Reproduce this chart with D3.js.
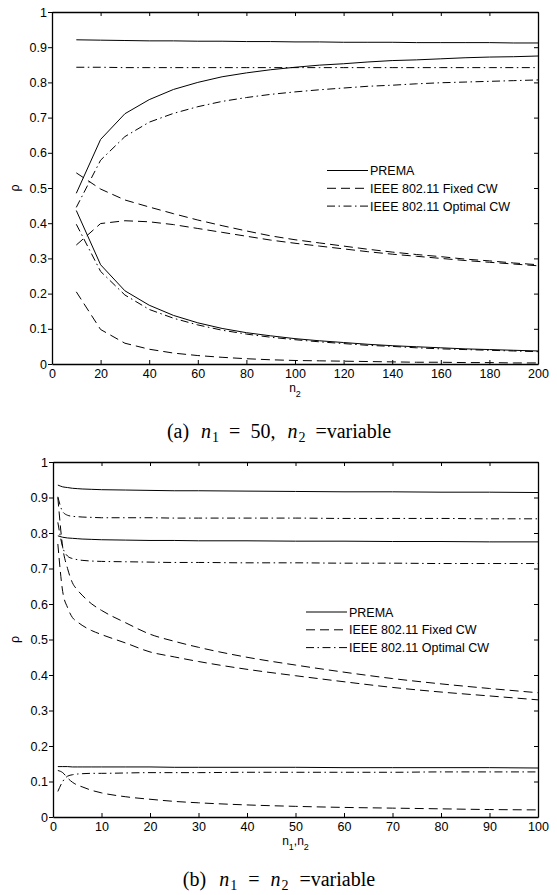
<!DOCTYPE html>
<html>
<head>
<meta charset="utf-8">
<script src="https://cdn.jsdelivr.net/npm/d3@7"></script>
<style>
  body { margin: 0; background: #fff; }
  text { font-family: "Liberation Sans", Arial, Helvetica, sans-serif; fill: #000; }
  text.cap { font-family: "Liberation Serif", "Times New Roman", serif; }
</style>
</head>
<body>
<script>
// ---- data ----
var topN2 = [10,20,30,40,50,60,70,80,90,100,110,120,130,140,150,160,170,180,190,200];
var topPremaTotal = [0.921,0.920,0.919,0.918,0.918,0.917,0.917,0.916,0.916,0.915,0.915,0.914,0.914,0.914,0.913,0.913,0.913,0.913,0.912,0.912];
var topPremaN2    = [0.485,0.638,0.711,0.751,0.780,0.800,0.816,0.827,0.836,0.843,0.849,0.853,0.858,0.862,0.864,0.867,0.870,0.872,0.873,0.875];
var topPremaN1    = [0.436,0.282,0.208,0.167,0.138,0.117,0.101,0.089,0.080,0.072,0.066,0.061,0.056,0.052,0.049,0.046,0.043,0.041,0.039,0.037];
var topFixedTotal = [0.543,0.497,0.466,0.446,0.427,0.409,0.393,0.378,0.364,0.353,0.344,0.335,0.326,0.318,0.311,0.305,0.298,0.293,0.287,0.282];
var topFixedN2    = [0.338,0.399,0.407,0.404,0.396,0.385,0.374,0.363,0.352,0.343,0.335,0.327,0.319,0.312,0.306,0.300,0.294,0.289,0.284,0.279];
var topFixedN1    = [0.205,0.098,0.059,0.042,0.031,0.024,0.019,0.015,0.012,0.010,0.009,0.008,0.007,0.006,0.005,0.005,0.004,0.004,0.003,0.003];
var topOptTotal   = [0.843,0.843,0.842,0.842,0.842,0.842,0.842,0.842,0.842,0.842,0.842,0.842,0.842,0.842,0.842,0.842,0.842,0.842,0.842,0.842];
var topOptN2      = [0.445,0.579,0.646,0.687,0.712,0.731,0.746,0.757,0.766,0.773,0.779,0.784,0.789,0.792,0.796,0.799,0.801,0.803,0.805,0.807];
var topOptN1      = [0.397,0.263,0.196,0.155,0.130,0.111,0.096,0.085,0.076,0.069,0.063,0.058,0.053,0.050,0.046,0.043,0.041,0.039,0.037,0.035];

var botN = [1,2,3,4,5,6,8,10,15,20,25,30,40,50,60,70,80,90,100];
var botPremaTotal = [0.935,0.930,0.928,0.926,0.925,0.924,0.923,0.922,0.921,0.920,0.919,0.919,0.918,0.917,0.916,0.916,0.915,0.915,0.914];
var botPremaA     = [0.792,0.788,0.786,0.785,0.784,0.783,0.782,0.781,0.780,0.779,0.779,0.778,0.778,0.777,0.777,0.776,0.776,0.775,0.775];
var botPremaB     = [0.142,0.142,0.142,0.141,0.141,0.141,0.141,0.141,0.141,0.141,0.140,0.140,0.140,0.140,0.139,0.139,0.139,0.139,0.138];
var botFixedTotal = [0.900,0.760,0.700,0.660,0.640,0.625,0.600,0.582,0.547,0.515,0.495,0.478,0.450,0.428,0.408,0.390,0.375,0.362,0.350];
var botFixedA     = [0.769,0.635,0.590,0.562,0.550,0.540,0.525,0.514,0.490,0.465,0.451,0.438,0.416,0.398,0.381,0.365,0.352,0.341,0.330];
var botFixedB     = [0.131,0.125,0.110,0.098,0.090,0.085,0.075,0.068,0.057,0.050,0.044,0.040,0.034,0.030,0.027,0.025,0.023,0.021,0.020];
var botOptTotal   = [0.902,0.860,0.850,0.847,0.846,0.845,0.844,0.843,0.843,0.843,0.842,0.842,0.842,0.842,0.841,0.841,0.841,0.840,0.840];
var botOptA       = [0.830,0.760,0.735,0.728,0.725,0.723,0.721,0.720,0.719,0.718,0.717,0.717,0.716,0.716,0.715,0.715,0.714,0.714,0.714];
var botOptB       = [0.072,0.100,0.115,0.119,0.121,0.122,0.123,0.123,0.124,0.125,0.125,0.125,0.126,0.126,0.126,0.126,0.127,0.127,0.127];

var yTicks = [0,0.1,0.2,0.3,0.4,0.5,0.6,0.7,0.8,0.9,1];
var topXTicks = [0,20,40,60,80,100,120,140,160,180,200];
var botXTicks = [0,10,20,30,40,50,60,70,80,90,100];
var legendLabels = ["PREMA", "IEEE 802.11 Fixed CW", "IEEE 802.11 Optimal CW"];

// line styles: solid, dashed, dash-dot
var dashes = ["none", "9,5", "8,3.5,1.5,3.5"];

var svg = d3.select("body").append("svg").attr("width", 557).attr("height", 895);

function panel(o) {
  var x = d3.scaleLinear().domain(o.xdom).range([o.left, o.right]);
  var y = d3.scaleLinear().domain([0, 1]).range([o.bottom, o.top]);
  var g = svg.append("g");
  var fmt = function(d){ return d === 0 ? "0" : d === 1 ? "1" : d3.format(".1f")(d); };

  g.append("g").attr("transform", "translate(0," + o.bottom + ")")
    .call(d3.axisBottom(x).tickValues(o.xticks).tickSizeInner(-4).tickSizeOuter(0).tickPadding(5));
  g.append("g").attr("transform", "translate(0," + o.top + ")")
    .call(d3.axisTop(x).tickValues(o.xticks).tickSizeInner(-4).tickSizeOuter(0).tickFormat(""));
  g.append("g").attr("transform", "translate(" + o.right + ",0)")
    .call(d3.axisRight(y).tickValues(yTicks).tickSizeInner(-4).tickSizeOuter(0).tickFormat(""));
  g.append("g").attr("transform", "translate(" + o.left + ",0)")
    .call(d3.axisLeft(y).tickValues(yTicks).tickSizeInner(4).tickSizeOuter(0).tickPadding(1).tickFormat(fmt));

  g.selectAll(".tick text").style("font-size", "12.5px").style("font-family", "'Liberation Sans', Arial, sans-serif");
  g.selectAll(".tick line").attr("stroke", "#000");
  g.selectAll(".domain").attr("stroke", "#000").attr("stroke-width", 1.3);

  var line = d3.line().x(function(d){ return x(d[0]); }).y(function(d){ return y(d[1]); }).curve(o.curve);
  o.series.forEach(function(s) {
    g.append("path")
      .attr("d", line(o.xs.map(function(v, i){ return [v, s.v[i]]; })))
      .attr("fill", "none").attr("stroke", "#000").attr("stroke-width", 1)
      .attr("stroke-dasharray", dashes[s.style]);
  });

  // legend
  legendLabels.forEach(function(lab, i) {
    var ly = o.legY + i * 17.8;
    g.append("line").attr("x1", o.legX).attr("x2", o.legX + 41).attr("y1", ly).attr("y2", ly)
      .attr("stroke", "#000").attr("stroke-width", 1).attr("stroke-dasharray", dashes[i]);
    g.append("text").attr("x", o.legX + 43).attr("y", ly).attr("dy", "0.36em")
      .style("font-size", "12.5px").text(lab);
  });

  // y label
  g.append("text").attr("transform", "translate(" + 19 + "," + (o.top + o.bottom) / 2 + ") rotate(-90)")
    .attr("text-anchor", "middle").style("font-size", "12.5px").text("ρ");

  // x label with subscripts
  var xl = g.append("text").attr("x", (o.left + o.right) / 2).attr("y", o.bottom + 28)
    .attr("text-anchor", "middle").style("font-size", "12px");
  o.xlabel.forEach(function(p) {
    xl.append("tspan").attr("dy", p.sub ? 5 : (p.up ? -5 : 0))
      .style("font-size", p.sub ? "9px" : "12px").text(p.t);
  });

  // caption (LaTeX-like: math italic n, subscripts, wide spacing)
  var cap = svg.append("text").attr("class", "cap").attr("x", 279).attr("y", o.capY)
    .attr("text-anchor", "middle").style("font-size", "20px").style("white-space", "pre");
  o.caption.forEach(function(p) {
    var t = cap.append("tspan").text(p.t);
    if (p.it) t.style("font-style", "italic");
    if (p.sub) t.style("font-size", "14px").attr("dy", 4);
    if (p.up) t.attr("dy", -4);
    if (p.dx) t.attr("dx", p.dx);
  });
}

panel({
  xdom: [0, 200], left: 52, right: 538, top: 12, bottom: 364,
  xticks: topXTicks, xs: topN2, curve: d3.curveLinear,
  series: [
    {v: topPremaTotal, style: 0}, {v: topPremaN2, style: 0}, {v: topPremaN1, style: 0},
    {v: topFixedTotal, style: 1}, {v: topFixedN2, style: 1}, {v: topFixedN1, style: 1},
    {v: topOptTotal, style: 2}, {v: topOptN2, style: 2}, {v: topOptN1, style: 2}
  ],
  legX: 327, legY: 170.5,
  xlabel: [{t: "n"}, {t: "2", sub: true}],
  capY: 438,
  caption: [{t: "(a)"}, {t: "n", it: true, dx: 12}, {t: "1", sub: true, dx: 1},
            {t: "=", up: true, dx: 10}, {t: "50,", dx: 10},
            {t: "n", it: true, dx: 12}, {t: "2", sub: true, dx: 1}, {t: "=variable", up: true, dx: 10}]
});

panel({
  xdom: [0, 100], left: 53, right: 538, top: 462, bottom: 817,
  xticks: botXTicks, xs: botN, curve: d3.curveMonotoneX,
  series: [
    {v: botPremaTotal, style: 0}, {v: botPremaA, style: 0}, {v: botPremaB, style: 0},
    {v: botFixedTotal, style: 1}, {v: botFixedA, style: 1}, {v: botFixedB, style: 1},
    {v: botOptTotal, style: 2}, {v: botOptA, style: 2}, {v: botOptB, style: 2}
  ],
  legX: 306, legY: 612,
  xlabel: [{t: "n"}, {t: "1", sub: true}, {t: ",n", up: true}, {t: "2", sub: true}],
  capY: 886,
  caption: [{t: "(b)"}, {t: "n", it: true, dx: 13}, {t: "1", sub: true, dx: 1},
            {t: "=", up: true, dx: 11}, {t: "n", it: true, dx: 11}, {t: "2", sub: true, dx: 1},
            {t: "=variable", up: true, dx: 11}]
});
</script>
</body>
</html>
